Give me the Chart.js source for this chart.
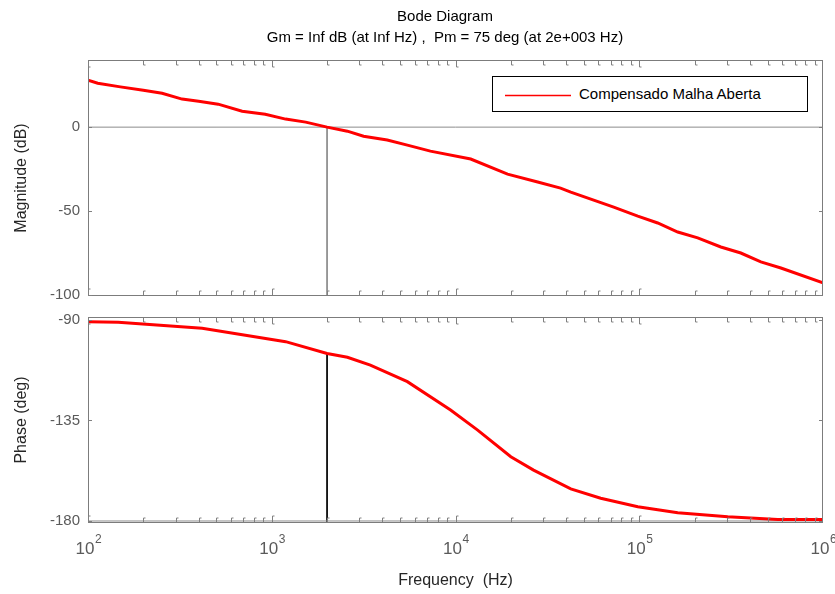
<!DOCTYPE html>
<html>
<head>
<meta charset="utf-8">
<title>Bode Diagram</title>
<script src="https://cdn.jsdelivr.net/npm/chart.js@4.4.1/dist/chart.umd.min.js"></script>
<style>
  html, body { margin: 0; padding: 0; background: #fff; }
  #wrap { position: relative; width: 835px; height: 594px; font-family: 'Liberation Sans', Arial, sans-serif; }
  #wrap canvas { position: absolute; left: 0; top: 0; }
  .ttl { position: absolute; left: 0; width: 890px; text-align: center; font-size: 15px; line-height: 18px; color: #000; white-space: pre; }
  #legend { position: absolute; left: 492px; top: 76px; width: 316px; height: 36px; box-sizing: border-box;
            border: 1px solid #000; background: #fff; z-index: 2; }
  #legend svg { position: absolute; left: 12px; top: 16px; }
  #legend .tx { display: block; position: absolute; left: 86px; top: 8px; font-size: 15px; line-height: 18px; color: #000; }
</style>
</head>
<body>
<div id="wrap">
  <canvas id="mag" width="835" height="594"></canvas>
  <canvas id="phase" width="835" height="594"></canvas>
  <div class="ttl" style="top:7px">Bode Diagram</div>
  <div class="ttl" style="top:28px">Gm = Inf dB (at Inf Hz) ,  Pm = 75 deg (at 2e+003 Hz)</div>
  <div id="legend">
    <svg width="66" height="5"><line x1="0" y1="2.5" x2="66" y2="2.5" stroke="#ff0000" stroke-width="1.4"/></svg>
    <span class="tx">Compensado Malha Aberta</span>
  </div>
</div>
<script>
// values
const magFreq = [100, 113, 150, 200, 253, 325, 400, 511, 690, 922, 1190, 1530, 2000, 2580, 3160, 4250,
  5470, 7300, 12100, 19200, 28000, 37300, 42400, 56500, 72600, 98200, 126000, 162000, 208000,
  278000, 357000, 459000, 590000, 1000000]
const magDb = [28, 26.2, 24, 22, 20.2, 16.7, 15.4, 13.7, 9.5, 7.7, 4.8, 3, 0, -2.4, -5.4, -7.7,
  -10.7, -14.3, -19, -28, -32.7, -36.3, -38.7, -43.5, -47.6, -53, -57.1, -62.5, -66,
  -71.4, -75, -80.3, -83.9, -92.8]

const phaseFreq = [100, 146, 418, 1190, 2000, 2580, 3440, 5470, 9400, 13200, 20000, 26600, 42400,
  61700, 98200, 162000, 303000, 568000, 1000000]
const phaseDeg = [-90.8, -91, -93.7, -99.7, -105, -106.7, -110.2, -117.6, -130.3, -139.3, -151.2,
  -157.2, -165.6, -169.8, -173.6, -176.3, -178.1, -179.3, -179.3]

const freqTicks = [1e2, 1e3, 1e4, 1e5, 1e6]
const magTicks = [-100, -50, 0]
const phaseTicks = [-180, -135, -90]

const crossFreq = 2000   // Pm = 75 deg at 2e+003 Hz
const pmPhase = -105

const fMin = 100, fMax = 1e6
const magMin = -100.6, magMax = 40
const phMin = -180.9, phMax = -88.66

const red = '#ff0000'
const tickColor = '#5a5a5a'
const labelColor = '#262626'
const fontFamily = "'Liberation Sans', Arial, sans-serif"

const pts = (xs, ys) => xs.map((x, i) => ({ x: x, y: ys[i] }))

const frame = {
  id: 'frame',
  afterDatasetsDraw(chart) {
    const { ctx, chartArea: a, scales } = chart
    ctx.save()
    ctx.lineWidth = 1
    ctx.strokeStyle = '#7c7c7c'
    ctx.strokeRect(a.left + 0.5, a.top + 0.5, a.right - a.left - 1, a.bottom - a.top - 1)
    // log minor ticks on top and bottom edges
    ctx.strokeStyle = '#808080'
    ctx.beginPath()
    for (let d = 2; d < 6; d++) {
      for (let m = 1; m < 10; m++) {
        const x = Math.round(scales.x.getPixelForValue(m * Math.pow(10, d))) + 0.5
        const len = m === 1 ? 6 : 4
        ctx.moveTo(x, a.top + 1); ctx.lineTo(x, a.top + 1 + len); ctx.lineTo(x + 2, a.top + 1 + len)
        ctx.moveTo(x, a.bottom - 1); ctx.lineTo(x, a.bottom - 1 - len); ctx.lineTo(x + 2, a.bottom - 1 - len)
      }
    }
    scales.y.ticks.forEach(t => {
      const y = Math.round(scales.y.getPixelForValue(t.value)) + 0.5
      ctx.moveTo(a.left, y); ctx.lineTo(a.left + 4, y)
      ctx.moveTo(a.right, y); ctx.lineTo(a.right - 4, y)
    })
    ctx.stroke()
    ctx.restore()
  }
}

// draws the small decade exponent next to each "10" tick label
const exponents = {
  id: 'exponents',
  afterDraw(chart) {
    const { ctx, scales } = chart
    const sx = scales.x
    ctx.save()
    ctx.fillStyle = tickColor
    ctx.font = '12px ' + fontFamily
    ctx.textBaseline = 'top'
    ctx.textAlign = 'left'
    sx.ticks.forEach(t => {
      const x = sx.getPixelForValue(t.value)
      ctx.fillText(String(Math.round(Math.log10(t.value))), x + 7, sx.top + 11)
    })
    ctx.restore()
  }
}

const fixedX = (height, showTicks) => ({
  type: 'logarithmic',
  min: fMin,
  max: fMax,
  grid: { display: false, drawTicks: false },
  border: { display: false },
  afterBuildTicks: s => { s.ticks = freqTicks.map(v => ({ value: v })) },
  afterFit: s => { s.height = height; s.paddingLeft = 0; s.paddingRight = 0 },
  ticks: {
    display: showTicks,
    autoSkip: false,
    maxRotation: 0,
    padding: 16,
    labelOffset: -3,
    color: tickColor,
    font: { family: fontFamily, size: 17 },
    callback: () => '10'
  },
  title: {
    display: showTicks,
    text: 'Frequency  (Hz)',
    color: labelColor,
    font: { family: fontFamily, size: 16 },
    padding: { top: 0, bottom: 4 }
  }
})

const fixedY = (min, max, ticks, text) => ({
  min: min,
  max: max,
  grid: { display: false, drawTicks: false },
  border: { display: false },
  afterBuildTicks: s => { s.ticks = ticks.map(v => ({ value: v })) },
  afterFit: s => { s.width = 88 },
  ticks: { color: tickColor, font: { family: fontFamily, size: 15 }, padding: 8 },
  title: {
    display: true,
    text: text,
    color: labelColor,
    font: { family: fontFamily, size: 16 },
    padding: { top: 12, bottom: 0 }
  }
})

const common = {
  responsive: false,
  animation: false,
  devicePixelRatio: 1,
  plugins: { legend: { display: false }, tooltip: { enabled: false } },
  elements: { point: { radius: 0 }, line: { tension: 0 } }
}

new Chart(document.getElementById('mag'), {
  type: 'line',
  data: {
    datasets: [
      { label: 'Compensado Malha Aberta', data: pts(magFreq, magDb), borderColor: red, borderWidth: 3 },
      { data: [{ x: fMin, y: 0 }, { x: fMax, y: 0 }], borderColor: '#8c8c8c', borderWidth: 1 },
      { data: [{ x: crossFreq, y: 0 }, { x: crossFreq, y: magMin }], borderColor: '#8c8c8c', borderWidth: 1 }
    ]
  },
  options: Object.assign({}, common, {
    layout: { padding: { top: 60, right: 12, left: 0, bottom: 0 } },
    scales: { x: fixedX(594 - 296, false), y: fixedY(magMin, magMax, magTicks, 'Magnitude (dB)') }
  }),
  plugins: [frame]
})

new Chart(document.getElementById('phase'), {
  type: 'line',
  data: {
    datasets: [
      { label: 'Compensado Malha Aberta', data: pts(phaseFreq, phaseDeg), borderColor: red, borderWidth: 3 },
      { data: [{ x: fMin, y: -180 }, { x: fMax, y: -180 }], borderColor: '#8c8c8c', borderWidth: 1 },
      { data: [{ x: crossFreq, y: pmPhase }, { x: crossFreq, y: phMin }], borderColor: '#000', borderWidth: 1 }
    ]
  },
  options: Object.assign({}, common, {
    layout: { padding: { top: 317, right: 12, left: 0, bottom: 0 } },
    scales: { x: fixedX(594 - 523, true), y: fixedY(phMin, phMax, phaseTicks, 'Phase (deg)') }
  }),
  plugins: [frame, exponents]
})
</script>
</body>
</html>
